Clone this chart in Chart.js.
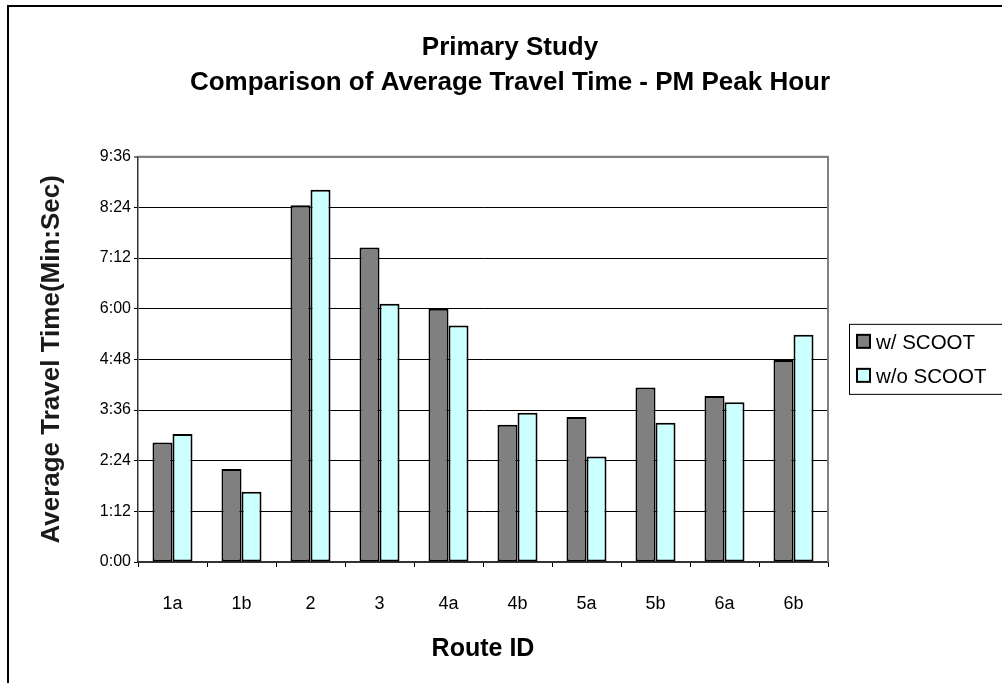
<!DOCTYPE html>
<html>
<head>
<meta charset="utf-8">
<script src="https://cdn.jsdelivr.net/npm/chart.js@4.4.1/dist/chart.umd.min.js"></script>
<style>
  html, body { margin: 0; padding: 0; background: #ffffff; }
  #wrap { width: 1002px; height: 683px; position: relative; }
</style>
</head>
<body>
<div id="wrap"><canvas id="chart" width="1002" height="683"></canvas></div>
<script>
// Route identifiers along the x axis
const routes = ['1a', '1b', '2', '3', '4a', '4b', '5a', '5b', '6a', '6b'];

// Average travel time in seconds, PM peak hour
const withScoot    = [170, 132, 507, 447, 360, 195, 206, 248, 236, 287];
const withoutScoot = [182, 100, 529, 367, 336, 212, 150, 198, 227, 323];

const seriesNames = ['w/ SCOOT', 'w/o SCOOT'];
const titleLines = ['Primary Study', 'Comparison of Average Travel Time - PM Peak Hour'];

// y axis runs 0:00 .. 9:36 in 1:12 steps (seconds)
const yMax = 576;
const yStep = 72;

const FONT = '"Liberation Sans", Arial, Helvetica, sans-serif';

function mmss(sec) {
  const m = Math.floor(sec / 60);
  const s = Math.round(sec - m * 60);
  return m + ':' + (s < 10 ? '0' : '') + s;
}

// Outer frame, two-line heading, plot border and boxed legend
const decorations = {
  id: 'decorations',
  beforeDraw(chart) {
    const ctx = chart.ctx;
    ctx.save();
    ctx.fillStyle = '#ffffff';
    ctx.fillRect(0, 0, chart.width, chart.height);
    ctx.strokeStyle = '#000000';
    ctx.lineWidth = 2;
    ctx.beginPath();
    ctx.moveTo(8, chart.height + 2);
    ctx.lineTo(8, 6);
    ctx.lineTo(chart.width + 2, 6);
    ctx.stroke();

    // heading, centred on the framed page
    ctx.fillStyle = '#000000';
    ctx.font = 'bold 26px ' + FONT;
    ctx.textAlign = 'center';
    ctx.textBaseline = 'middle';
    const cx = (8 + chart.width) / 2 + 5;
    titleLines.forEach((line, i) => ctx.fillText(line, cx, 48 + i * 35));
    ctx.restore();
  },
  beforeDatasetsDraw(chart) {
    const {ctx, chartArea: a} = chart;
    ctx.save();
    ctx.strokeStyle = '#808080';
    ctx.lineWidth = 2;
    ctx.beginPath();
    ctx.moveTo(a.left, a.top);
    ctx.lineTo(a.right, a.top);
    ctx.lineTo(a.right, a.bottom);
    ctx.stroke();
    ctx.restore();
  },
  afterDraw(chart) {
    const {ctx, chartArea: a} = chart;
    const boxX = a.right + 21;
    const boxH = 70;
    const boxY = (a.top + a.bottom) / 2 - boxH / 2 - 0.5;
    ctx.save();
    ctx.fillStyle = '#ffffff';
    ctx.fillRect(boxX, boxY, chart.width - boxX + 5, boxH);
    ctx.strokeStyle = '#000000';
    ctx.lineWidth = 1;
    ctx.strokeRect(boxX + 0.5, boxY + 0.5, chart.width - boxX + 5, boxH);
    ctx.font = '20.5px ' + FONT;
    ctx.textBaseline = 'middle';
    ctx.textAlign = 'left';
    chart.data.datasets.forEach((ds, i) => {
      const cy = boxY + 18 + i * 34;
      ctx.fillStyle = ds.backgroundColor;
      ctx.fillRect(boxX + 8, cy - 7, 13, 13);
      ctx.strokeStyle = '#000000';
      ctx.lineWidth = 2;
      ctx.strokeRect(boxX + 8, cy - 7, 13, 13);
      ctx.fillStyle = '#000000';
      ctx.fillText(ds.label, boxX + 27, cy + 1);
    });
    ctx.restore();
  }
};

new Chart(document.getElementById('chart'), {
  type: 'bar',
  data: {
    labels: routes,
    datasets: [
      {
        label: seriesNames[0],
        data: withScoot,
        backgroundColor: '#808080',
        borderColor: '#000000',
        borderWidth: 2,
        borderSkipped: false,
        categoryPercentage: 0.58,
        barPercentage: 1.0
      },
      {
        label: seriesNames[1],
        data: withoutScoot,
        backgroundColor: '#CCFFFF',
        borderColor: '#000000',
        borderWidth: 2,
        borderSkipped: false,
        categoryPercentage: 0.58,
        barPercentage: 1.0
      }
    ]
  },
  options: {
    responsive: false,
    animation: false,
    devicePixelRatio: 1,
    layout: { padding: { left: 8, right: 174, top: 156.7, bottom: 0 } },
    plugins: {
      legend: { display: false },
      tooltip: { enabled: false },
      title: { display: false }
    },
    scales: {
      x: {
        offset: true,
        grid: {
          offset: true,
          drawOnChartArea: false,
          drawTicks: true,
          tickLength: 5,
          color: '#000000',
          lineWidth: 1
        },
        border: { color: '#333333', width: 2 },
        ticks: {
          color: '#000000',
          font: { family: FONT, size: 18 },
          padding: 26,
          maxRotation: 0
        },
        title: {
          display: true,
          text: 'Route ID',
          color: '#000000',
          font: { family: FONT, size: 25, weight: 'bold', lineHeight: 1.2 },
          padding: { top: 0, bottom: 19 }
        },
        afterFit(scale) { scale.height = 121; }
      },
      y: {
        min: 0,
        max: yMax,
        ticks: {
          stepSize: yStep,
          color: '#000000',
          font: { family: FONT, size: 16 },
          padding: 3,
          callback: (v) => mmss(v)
        },
        grid: {
          drawTicks: true,
          tickLength: 4,
          color: (c) => (c.tick && c.tick.value === yMax ? '#808080' : '#000000'),
          lineWidth: (c) => (c.tick && c.tick.value === yMax ? 2 : 1)
        },
        border: { color: '#333333', width: 1.5 },
        title: {
          display: true,
          text: 'Average Travel Time(Min:Sec)',
          color: '#1a1a1a',
          font: { family: FONT, size: 26, weight: 'bold', lineHeight: 1.2 },
          padding: { top: 28.5, bottom: 0 }
        },
        afterFit(scale) { scale.width = 130; }
      }
    }
  },
  plugins: [decorations]
});
</script>
</body>
</html>
